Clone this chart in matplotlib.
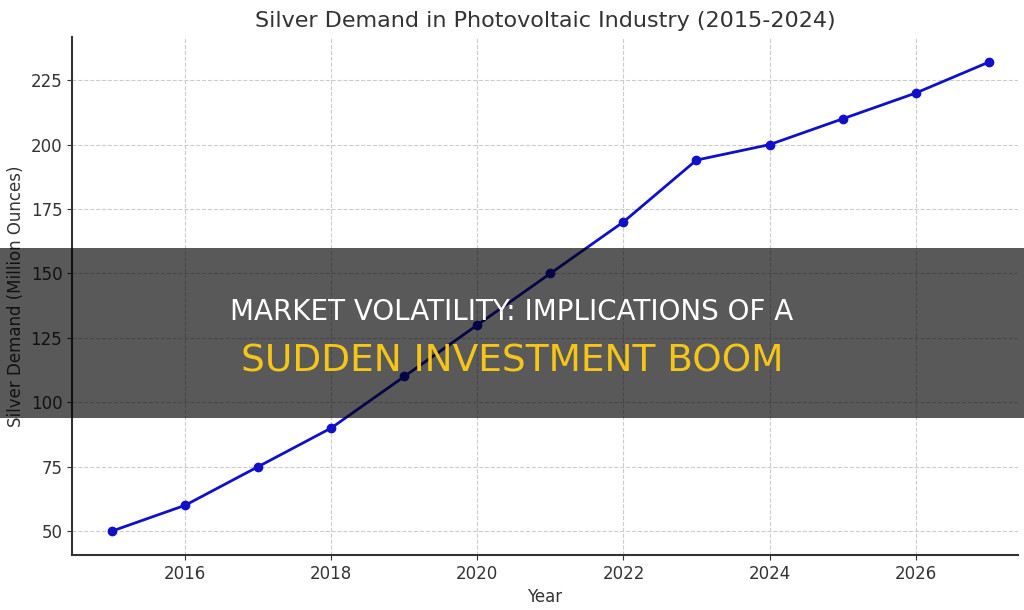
import matplotlib
matplotlib.use("Agg")
import matplotlib.pyplot as plt
from matplotlib.patches import Rectangle

# datos de la grafica
years = [2015, 2016, 2017, 2018, 2019, 2020, 2021, 2022, 2023, 2024, 2025, 2026, 2027]
demand = [50, 60, 75, 90, 110, 130, 150, 170, 194, 200, 210, 220, 232]
x_ticks = [2016, 2018, 2020, 2022, 2024, 2026]
y_ticks = [50, 75, 100, 125, 150, 175, 200, 225]

title = "Silver Demand in Photovoltaic Industry (2015-2024)"
banner_line1 = "MARKET VOLATILITY: IMPLICATIONS OF A"
banner_line2 = "SUDDEN INVESTMENT BOOM"

fig = plt.figure(figsize=(10.24, 6.10), dpi=100)
ax = fig.add_axes([0.0703, 0.0902, 0.9237, 0.8488])

ax.plot(years, demand, color="#1010c8", linewidth=2, marker="o", markersize=6)

ax.set_xlim(2014.45, 2027.4)
ax.set_ylim(40.7, 241.7)
ax.set_xticks(x_ticks)
ax.set_yticks(y_ticks)
ax.tick_params(labelsize=12, colors="#333333")
ax.grid(True, linestyle="--", color="#cccccc", linewidth=0.8)

for s in ["top", "right"]:
    ax.spines[s].set_visible(False)
for s in ["left", "bottom"]:
    ax.spines[s].set_color("#333333")
    ax.spines[s].set_linewidth(1.5)

ax.set_title(title, fontsize=16, color="#333333", pad=7)
ax.set_xlabel("Year", fontsize=12, color="#333333")
ax.set_ylabel("Silver Demand (Million Ounces)", fontsize=12, color="#333333")

# banda oscura encima del grafico
fig.add_artist(Rectangle((0, 1 - 418 / 610), 1, 170 / 610, transform=fig.transFigure,
                         facecolor="black", alpha=0.65, edgecolor="none", zorder=10))
fig.text(0.5, 1 - 312 / 610, banner_line1, ha="center", va="center", fontsize=20,
         color="white", zorder=11)
fig.text(0.5, 1 - 361 / 610, banner_line2, ha="center", va="center", fontsize=27,
         color="#f5c518", zorder=11)

fig.savefig("out.png", dpi=100)
